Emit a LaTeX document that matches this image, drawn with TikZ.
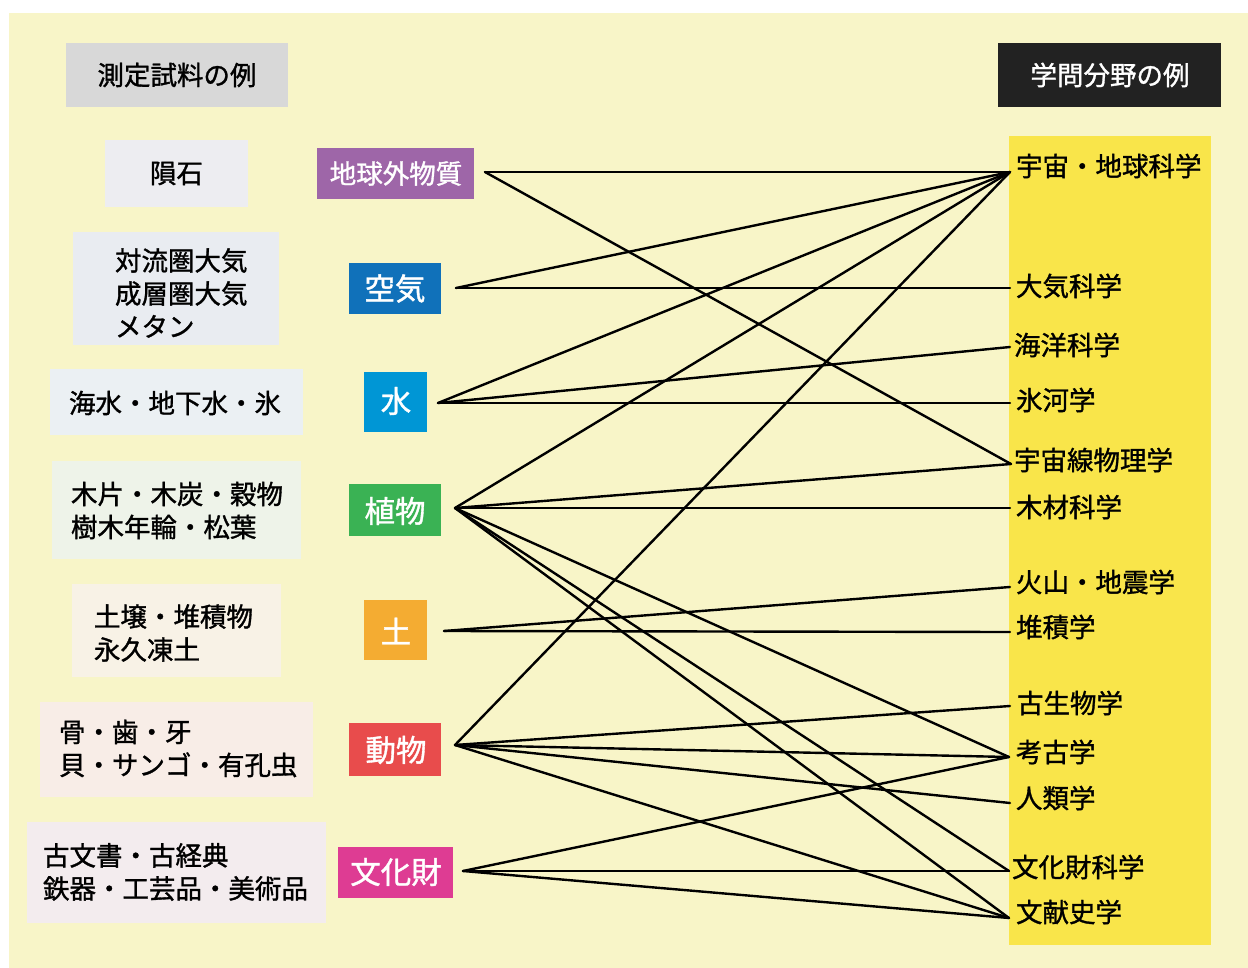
\documentclass[tikz,border=0pt]{standalone}
\usepackage{fontspec}
\setmainfont{Noto Sans CJK JP}[FakeBold=1.2]
\definecolor{bgc}{HTML}{F8F5C8}
\definecolor{hdrgray}{HTML}{D8D8D8}
\definecolor{hdrdark}{HTML}{222222}
\definecolor{colyel}{HTML}{F9E54A}
\definecolor{bA}{HTML}{EDEDF1}
\definecolor{bB}{HTML}{E9ECF1}
\definecolor{bC}{HTML}{EBF0F3}
\definecolor{bD}{HTML}{EEF3E9}
\definecolor{bE}{HTML}{F8F2E6}
\definecolor{bF}{HTML}{F8EDE7}
\definecolor{bG}{HTML}{F3ECEE}
\definecolor{cPur}{HTML}{9E66A8}
\definecolor{cAir}{HTML}{1071BA}
\definecolor{cWat}{HTML}{0096D5}
\definecolor{cPla}{HTML}{3AB254}
\definecolor{cSoi}{HTML}{F4AC32}
\definecolor{cAni}{HTML}{E84C4C}
\definecolor{cCul}{HTML}{DE3C93}
\tikzset{
  plainbox/.style={draw=none, inner sep=0pt, outer sep=0pt},
  lbl/.style={inner sep=0pt, outer sep=0pt, font=\fontsize{26.5}{33}\selectfont, align=left, anchor=west},
  ctr/.style={inner sep=0pt, outer sep=0pt, font=\fontsize{26.5}{33}\selectfont},
  catlbl/.style={inner sep=0pt, outer sep=0pt, text=white, font=\fontsize{30.5}{36}\selectfont},
  link/.style={line width=2.4pt, black, line cap=round}
}
\begin{document}
\begin{tikzpicture}[x=1pt,y=-1pt]
\useasboundingbox (0,0) rectangle (1248,968);
\node[plainbox, fill=bgc, minimum width=1239pt, minimum height=955pt] (bg) at (628.5,490.5) {};

% headers
\node[plainbox, fill=hdrgray, minimum width=222pt, minimum height=64pt] (hdrL) at (177,75) {};
\node[ctr] (hdrLt) at (177,75) {測定試料の例};
\node[plainbox, fill=hdrdark, minimum width=223pt, minimum height=64pt] (hdrR) at (1109.5,75) {};
\node[ctr, text=white] (hdrRt) at (1110,75) {学問分野の例};

% right column
\node[plainbox, fill=colyel, minimum width=202pt, minimum height=809pt] (col) at (1110,540.5) {};

% left sample boxes
\node[plainbox, fill=bA, minimum width=143pt, minimum height=67pt] (b1) at (176.5,173.5) {};
\node[ctr] (b1t) at (176.5,173.5) {隕石};
\node[plainbox, fill=bB, minimum width=206pt, minimum height=113pt] (b2) at (176,288.5) {};
\node[lbl] (b2t) at (115,293) {対流圏大気\\成層圏大気\\メタン};
\node[plainbox, fill=bC, minimum width=253pt, minimum height=66pt] (b3) at (176.5,402) {};
\node[lbl] (b3t) at (69,403) {海水・地下水・氷};
\node[plainbox, fill=bD, minimum width=249pt, minimum height=98pt] (b4) at (176.5,510) {};
\node[lbl] (b4t) at (71,510.5) {木片・木炭・穀物\\樹木年輪・松葉};
\node[plainbox, fill=bE, minimum width=209pt, minimum height=93pt] (b5) at (176.5,630.5) {};
\node[lbl] (b5t) at (94,633) {土壌・堆積物\\永久凍土};
\node[plainbox, fill=bF, minimum width=273pt, minimum height=95pt] (b6) at (176.5,749.5) {};
\node[lbl] (b6t) at (59,748.5) {骨・歯・牙\\貝・サンゴ・有孔虫};
\node[plainbox, fill=bG, minimum width=299pt, minimum height=101pt] (b7) at (176.5,872.5) {};
\node[lbl] (b7t) at (43,872) {古文書・古経典\\鉄器・工芸品・美術品};

% category boxes
\node[plainbox, fill=cPur, minimum width=157pt, minimum height=51pt] (c1) at (395.5,173.5) {};
\node[ctr, text=white] (c1t) at (396,173.5) {地球外物質};
\node[plainbox, fill=cAir, minimum width=92pt, minimum height=51pt] (c2) at (395,288.5) {};
\node[catlbl] (c2t) at (395,288.5) {空気};
\node[plainbox, fill=cWat, minimum width=63pt, minimum height=60pt] (c3) at (395.5,402) {};
\node[catlbl] (c3t) at (396,401) {水};
\node[plainbox, fill=cPla, minimum width=92pt, minimum height=52pt] (c4) at (395,510) {};
\node[catlbl] (c4t) at (395,511) {植物};
\node[plainbox, fill=cSoi, minimum width=63pt, minimum height=60pt] (c5) at (395.5,630) {};
\node[catlbl] (c5t) at (396,631) {土};
\node[plainbox, fill=cAni, minimum width=92pt, minimum height=53pt] (c6) at (395,749.5) {};
\node[catlbl] (c6t) at (396,750) {動物};
\node[plainbox, fill=cCul, minimum width=115pt, minimum height=51pt] (c7) at (395.5,872.5) {};
\node[catlbl] (c7t) at (396,872) {文化財};

% field labels
\node[lbl] (f1) at (1016,166) {宇宙・地球科学};
\node[lbl] (f2) at (1016,286) {大気科学};
\node[lbl] (f3) at (1014,345) {海洋科学};
\node[lbl] (f4) at (1016,400) {氷河学};
\node[lbl] (f5) at (1014,460) {宇宙線物理学};
\node[lbl] (f6) at (1016,507) {木材科学};
\node[lbl] (f7) at (1016,582) {火山・地震学};
\node[lbl] (f8) at (1016,627) {堆積学};
\node[lbl] (f9) at (1017,703) {古生物学};
\node[lbl] (f10) at (1016,752) {考古学};
\node[lbl] (f11) at (1016,798) {人類学};
\node[lbl] (f12) at (1012,867) {文化財科学};
\node[lbl] (f13) at (1016,912) {文献史学};

% connector end points
\coordinate (s1) at (485,172);
\coordinate (s2) at (456,288);
\coordinate (s3) at (438,403);
\coordinate (s4) at (455,508);
\coordinate (s5) at (444,631);
\coordinate (s6) at (455,745);
\coordinate (s7) at (463,871);
\coordinate (t1) at (1010,172);
\coordinate (t2) at (1010,288);
\coordinate (t3) at (1010,347);
\coordinate (t4) at (1010,403);
\coordinate (t5) at (1011,464);
\coordinate (t6) at (1010,508);
\coordinate (t7) at (1010,587);
\coordinate (t8) at (1010,632);
\coordinate (t9) at (1010,706);
\coordinate (t10) at (1009,757);
\coordinate (t11) at (1010,803);
\coordinate (t12) at (1009,871);
\coordinate (t13) at (1009,918);

% connectors
\draw[link] (s1) -- (t1);
\draw[link] (s1) -- (t5);
\draw[link] (s2) -- (t1);
\draw[link] (s2) -- (t2);
\draw[link] (s3) -- (t1);
\draw[link] (s3) -- (t3);
\draw[link] (s3) -- (t4);
\draw[link] (s4) -- (t1);
\draw[link] (s4) -- (t5);
\draw[link] (s4) -- (t6);
\draw[link] (s4) -- (t10);
\draw[link] (s4) -- (t12);
\draw[link] (s4) -- (t13);
\draw[link] (s5) -- (t7);
\draw[link] (s5) -- (t8);
\draw[link] (s6) -- (t1);
\draw[link] (s6) -- (t9);
\draw[link] (s6) -- (t10);
\draw[link] (s6) -- (t11);
\draw[link] (s6) -- (t13);
\draw[link] (s7) -- (t10);
\draw[link] (s7) -- (t12);
\draw[link] (s7) -- (t13);
\end{tikzpicture}
\end{document}
